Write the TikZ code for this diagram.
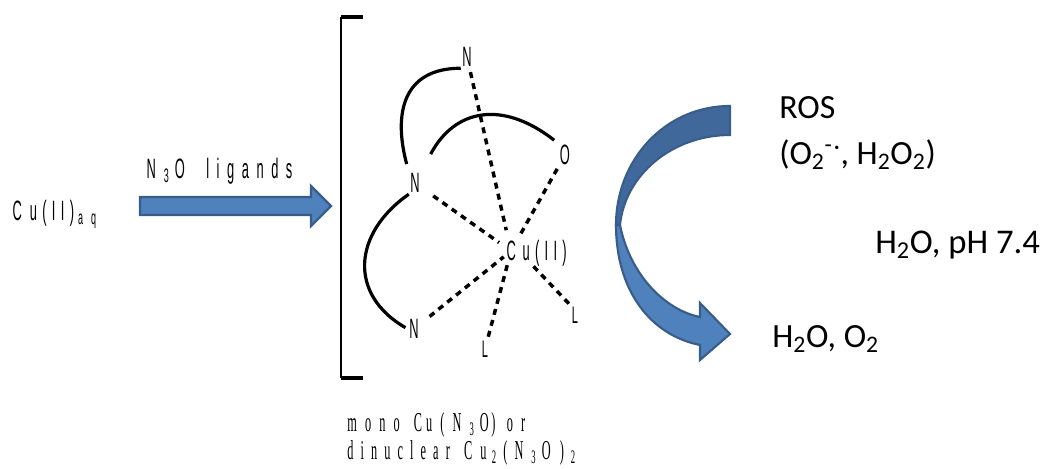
\documentclass[tikz,border=0pt]{standalone}
\usepackage{fontspec}
\setmainfont{Carlito}
\newfontfamily\narrowsans[FakeStretch=0.46,LetterSpace=19]{Liberation Sans}
\newfontfamily\widesans[FakeStretch=0.46,LetterSpace=27]{Liberation Sans}
\newfontfamily\narrowserif[FakeStretch=0.45,LetterSpace=30]{Liberation Serif}
\newfontfamily\tightserif[FakeStretch=0.45,LetterSpace=26]{Liberation Serif}
\newcommand{\spacedsub}[1]{\hspace{6pt}\textsubscript{#1}\hspace{4pt}}
\definecolor{arrowblue}{HTML}{4F81BD}
\definecolor{arrowdark}{HTML}{41689A}
\definecolor{arrowedge}{HTML}{385D8A}
\tikzset{
  atom/.style={inner sep=1pt,font=\narrowsans\fontsize{21}{24}\selectfont},
  smallatom/.style={inner sep=1pt,font=\narrowsans\fontsize{18}{20}\selectfont},
  product/.style={inner sep=0pt,anchor=west,align=left,font=\fontsize{25.4}{34}\selectfont},
  chelate/.style={line width=2.4pt,black},
  bond/.style={line width=2.6pt,black,dash pattern=on 4.5pt off 4pt},
  blockarrow/.style={draw=arrowedge,line width=1.6pt,line join=miter}
}
\begin{document}
\begin{tikzpicture}[x=0.75pt,y=-0.75pt]
\useasboundingbox (0,0) rectangle (1042,468);

% Left part
\node[atom,anchor=west] (cuaq) at (11,214) {C\hspace{6pt}u(II)\textsubscript{\hspace{3pt}a\hspace{6pt}q}};
\node[atom,anchor=west] (ligands) at (145,171) {N\spacedsub{3}O\hspace{16pt}{\widesans ligands}};
\draw[blockarrow,fill=arrowblue] (140,197) -- (311,197) -- (311,186) -- (331,206)
  -- (311,226) -- (311,215) -- (140,215) -- cycle;

% Bracket
\draw[line width=2.2pt] (341,17) -- (341,378);
\draw[line width=3.6pt] (341,17) -- (363,17);
\draw[line width=3.6pt] (341,378) -- (363,378);

% Atoms
\node[atom] (ntop) at (467,57) {N};
\node[atom] (nmid) at (415,183) {N};
\node[atom] (nlow) at (414,329) {N};
\node[atom] (oxy) at (565,155) {O};
\node[atom,anchor=west] (cuii) at (505,253) {C\hspace{5pt}u(II)};
\coordinate (cucentre) at (511,251);
\coordinate (curight) at (517,249);
\node[smallatom] (lleft) at (485,349) {L};
\node[smallatom] (lright) at (575,315) {L};

\draw[chelate,shorten >=6pt] (ntop.south west) to[out=180,in=105,looseness=1.3] (nmid.north west);
\draw[chelate,shorten <=15pt,shorten >=4pt] (nmid.north east) to[out=62,in=142,looseness=1.3] (oxy.north west);
\draw[chelate,shorten >=2pt] (nmid.south west) to[out=215,in=150,looseness=1.3] (nlow.west);

\foreach \a/\s/\e in {ntop/3/16,nmid/11/11,nlow/9/7,oxy/2/14}{
  \draw[bond,shorten <=\s pt,shorten >=\e pt] (\a) -- (cucentre);
}
\draw[bond,shorten <=11pt] (cucentre) -- (lleft);
\draw[bond,shorten <=18pt] (curight) -- (lright.north west);

\node[anchor=north west,inner sep=0pt,align=left,font=\narrowserif\fontsize{20.5}{21}\selectfont] (caption)
  at (347,412) {mono\hspace{2pt} C\hspace{3pt}u(N\spacedsub{3}O\hspace{2pt}) or\\{\tightserif dinuclear\hspace{3pt} C\hspace{6pt}u\hspace{4pt}\textsubscript{2}\hspace{5pt}(N\spacedsub{3}O\hspace{7pt})\hspace{5pt}\textsubscript{2}}};

% Curved arrow
\draw[blockarrow,fill=arrowblue] (616,225) .. controls (616,290) and (650,335) .. (700,345)
  -- (700,360) -- (730,334) -- (700,303) -- (700,317)
  .. controls (665,310) and (630,275) .. (620,225) -- cycle;
\draw[blockarrow,fill=arrowdark] (730,106) .. controls (665,106) and (616,160) .. (616,225)
  -- (620,225) .. controls (625,175) and (672,135) .. (730,135) -- cycle;

% Products
\node[product] (ros) at (779,133) {ROS\\(O\textsubscript{2}\textsuperscript{-\kern1.5pt\raisebox{-1.5pt}{·}}, H\textsubscript{2}O\textsubscript{2})};
\node[product,font=\fontsize{26}{34}\selectfont] (water) at (875,245) {H\textsubscript{2}O, pH 7.4};
\node[product] (oxygen) at (772,339) {H\textsubscript{2}O, O\textsubscript{2}};
\end{tikzpicture}
\end{document}
